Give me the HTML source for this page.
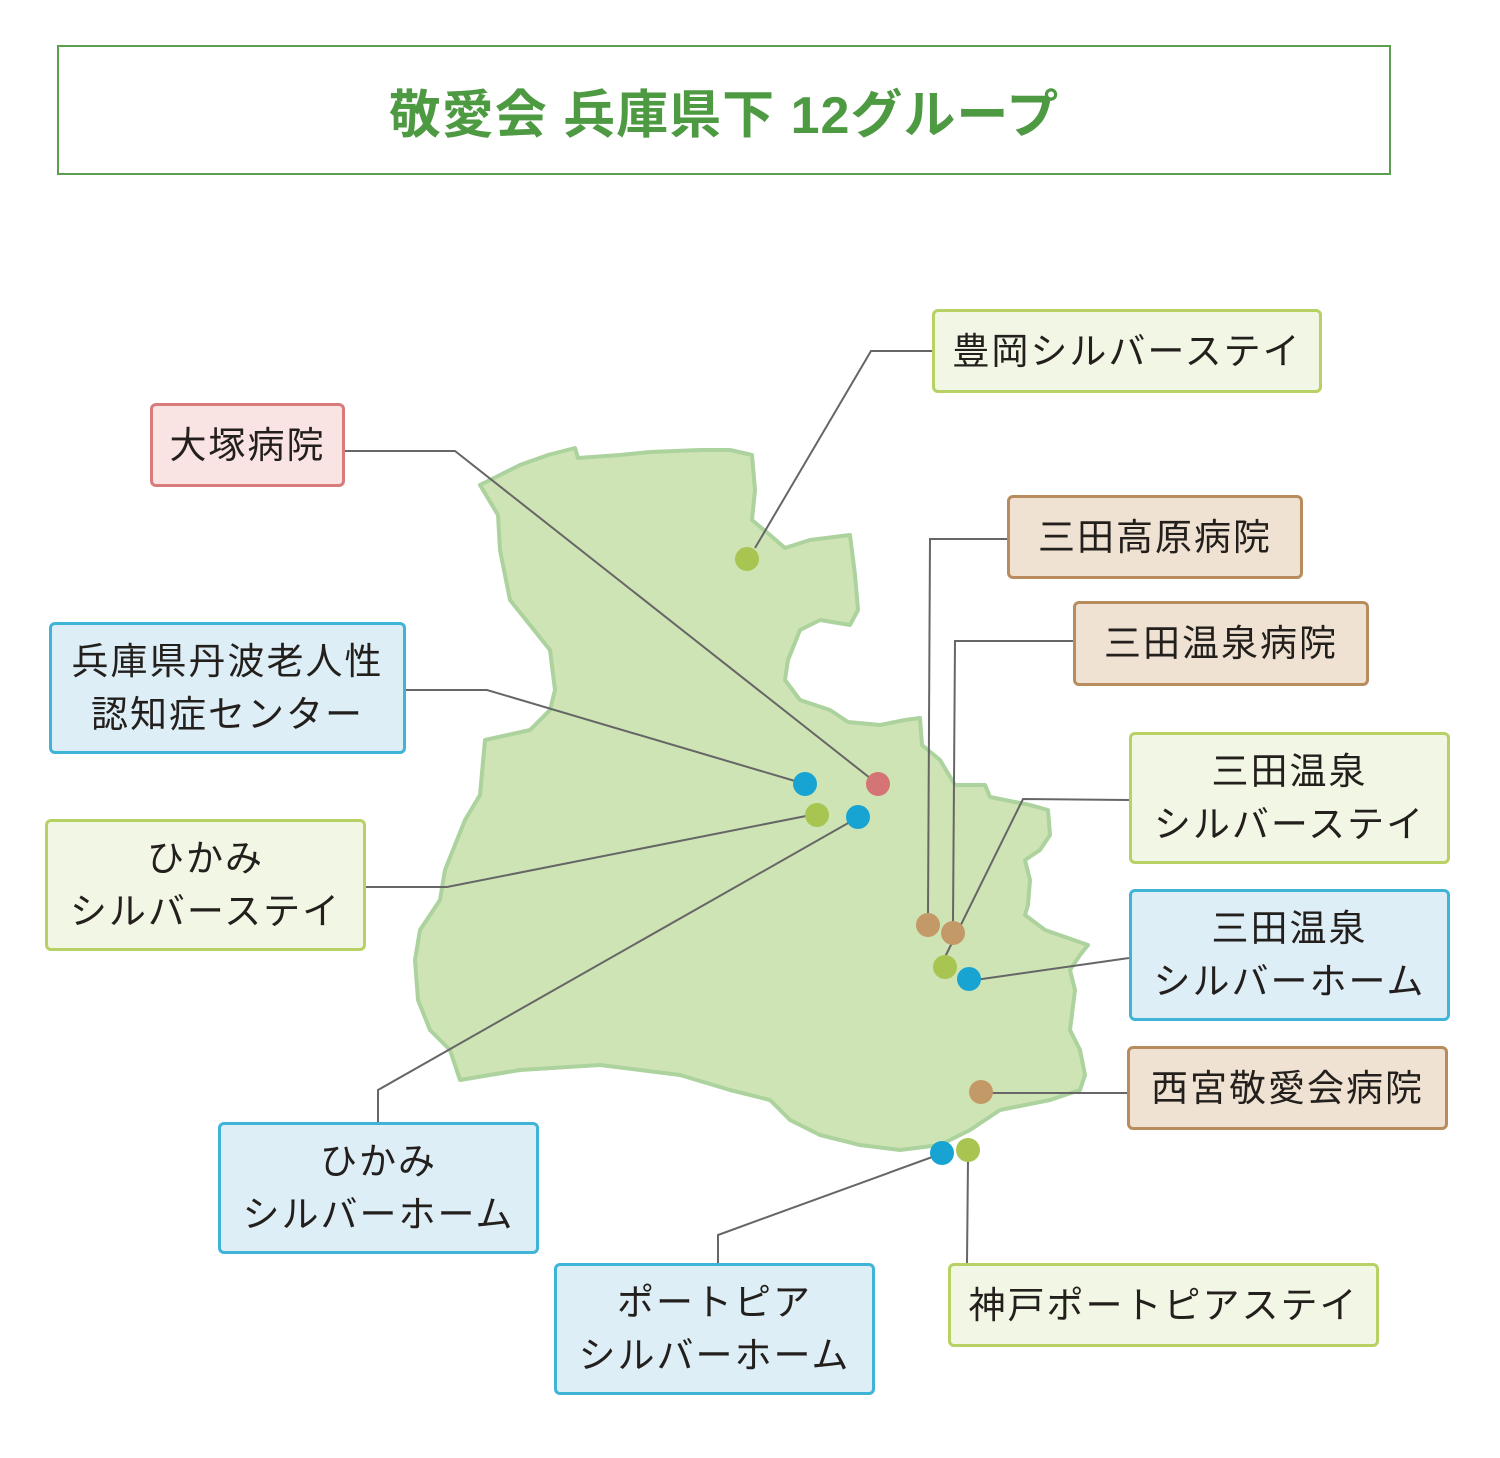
<!DOCTYPE html>
<html><head><meta charset="utf-8"><style>
body{margin:0;width:1500px;height:1458px;background:#fff;position:relative;overflow:hidden;font-family:"Liberation Sans","Noto Sans CJK JP",sans-serif;}
.b{position:absolute;box-sizing:border-box;border:3px solid;border-radius:6px;display:flex;align-items:center;justify-content:center;text-align:center;font-size:37px;line-height:53px;color:#231f1c;letter-spacing:2px}
.g{background:#f2f6e4;border-color:#b7d165}
.p{background:#f9e3e3;border-color:#d97b7b}
.t{background:#efe2d2;border-color:#b98c5e}
.u{background:#ddeef7;border-color:#3fb4d7}
svg{position:absolute;left:0;top:0}
</style></head><body>
<div style="position:absolute;left:57px;top:45px;width:1334px;height:130px;box-sizing:border-box;border:2px solid #5a9e4e;display:flex;align-items:center;justify-content:center;color:#4e9a43;font-size:52px;font-weight:bold;letter-spacing:1px">敬愛会 兵庫県下 12グループ</div>
<svg width="1500" height="1458">
<polygon fill="#cfe4b4" stroke="#acd29e" stroke-width="4" stroke-linejoin="round" points="480,485 520,465 548,455 575,448 578,458 620,455 650,452 700,450 730,450 752,455 755,490 752,520 770,535 785,548 810,540 850,535 855,575 858,610 850,625 820,620 800,630 788,660 785,680 800,700 830,710 848,722 880,725 905,720 920,718 922,745 940,760 955,785 985,785 990,797 1030,805 1048,810 1050,835 1040,850 1025,860 1030,880 1028,905 1025,915 1045,930 1088,945 1080,955 1070,970 1075,990 1070,1030 1080,1050 1085,1075 1080,1090 1050,1100 1000,1110 970,1130 940,1145 900,1150 860,1145 820,1135 790,1120 770,1100 730,1090 680,1075 600,1065 520,1070 460,1080 450,1050 430,1030 418,1000 415,960 420,930 440,900 445,870 465,820 480,795 485,740 530,730 550,710 555,690 550,650 530,625 510,600 500,550 498,515"/>
<g fill="none" stroke="#666" stroke-width="2">
<polyline points="932,351 871,351 755,548"/>
<polyline points="345,451 455,451 870,778"/>
<polyline points="1007,539 930,539 928,913"/>
<polyline points="1073,641 955,641 953,921"/>
<polyline points="406,690 487,690 795,781"/>
<polyline points="1129,800 1023,799 945,957"/>
<polyline points="366,887 447,887 806,816"/>
<polyline points="1129,958 975,980"/>
<polyline points="1127,1093 990,1093"/>
<polyline points="378,1122 378,1090 850,822"/>
<polyline points="718,1263 718,1235 935,1156"/>
<polyline points="967,1263 968,1160"/>
</g>
<g>
<circle cx="747" cy="559" r="12" fill="#a8c551"/>
<circle cx="878" cy="784" r="12" fill="#d57474"/>
<circle cx="805" cy="784" r="12" fill="#17a4d3"/>
<circle cx="817" cy="815" r="12" fill="#a8c551"/>
<circle cx="858" cy="817" r="12" fill="#17a4d3"/>
<circle cx="928" cy="925" r="12" fill="#c49968"/>
<circle cx="953" cy="933" r="12" fill="#c49968"/>
<circle cx="945" cy="967" r="12" fill="#a8c551"/>
<circle cx="969" cy="979" r="12" fill="#17a4d3"/>
<circle cx="981" cy="1092" r="12" fill="#c49968"/>
<circle cx="942" cy="1153" r="12" fill="#17a4d3"/>
<circle cx="968" cy="1150" r="12" fill="#a8c551"/>
</g>
</svg>
<div class="b g" style="left:932px;top:309px;width:390px;height:84px">豊岡シルバーステイ</div>
<div class="b p" style="left:150px;top:403px;width:195px;height:84px">大塚病院</div>
<div class="b t" style="left:1007px;top:495px;width:296px;height:84px">三田高原病院</div>
<div class="b t" style="left:1073px;top:601px;width:296px;height:85px">三田温泉病院</div>
<div class="b u" style="left:49px;top:622px;width:357px;height:132px">兵庫県丹波老人性<br>認知症センター</div>
<div class="b g" style="left:1129px;top:732px;width:321px;height:132px">三田温泉<br>シルバーステイ</div>
<div class="b g" style="left:45px;top:819px;width:321px;height:132px">ひかみ<br>シルバーステイ</div>
<div class="b u" style="left:1129px;top:889px;width:321px;height:132px">三田温泉<br>シルバーホーム</div>
<div class="b t" style="left:1127px;top:1046px;width:321px;height:84px">西宮敬愛会病院</div>
<div class="b u" style="left:218px;top:1122px;width:321px;height:132px">ひかみ<br>シルバーホーム</div>
<div class="b u" style="left:554px;top:1263px;width:321px;height:132px">ポートピア<br>シルバーホーム</div>
<div class="b g" style="left:948px;top:1263px;width:431px;height:84px">神戸ポートピアステイ</div>
</body></html>
